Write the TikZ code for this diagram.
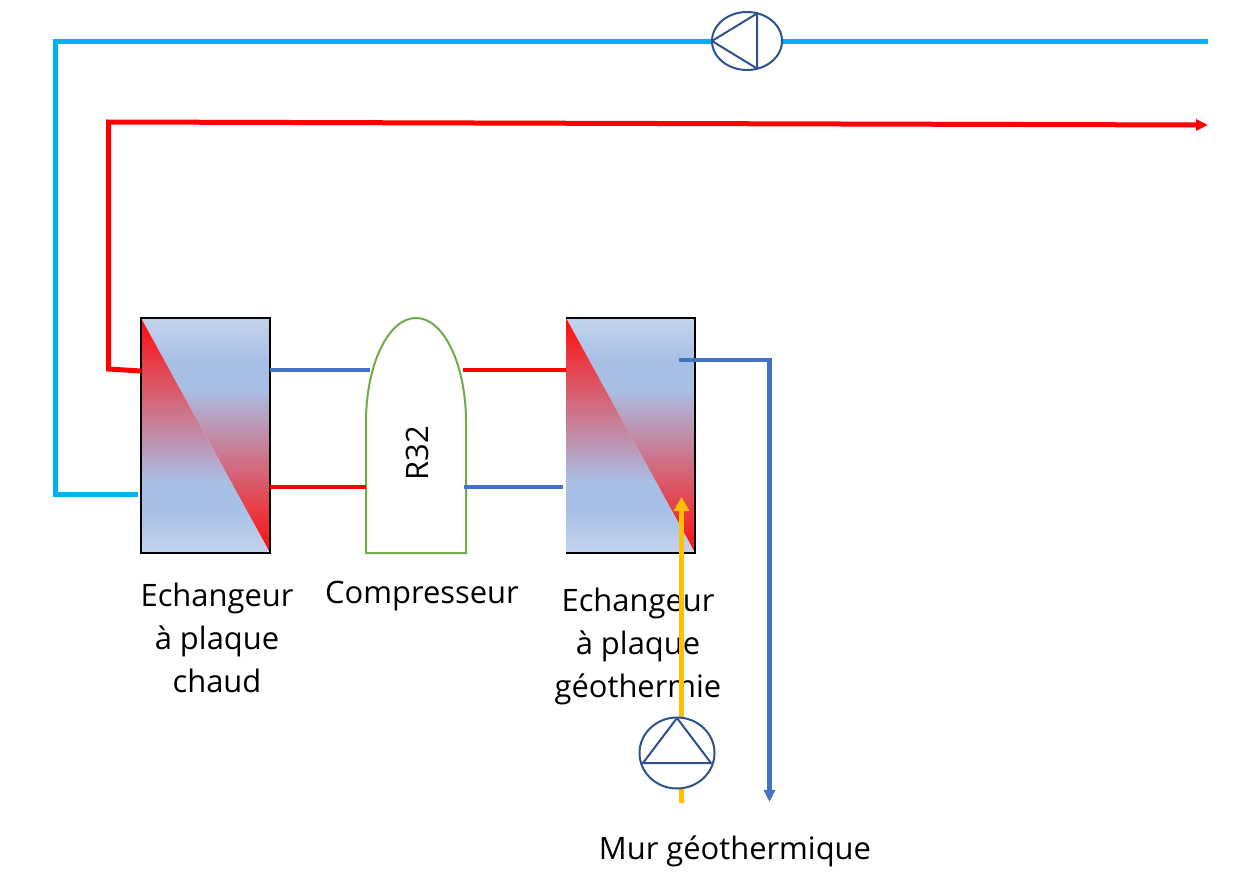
\documentclass[tikz,border=0pt]{standalone}
\usepackage{fontspec}
\setmainfont{Open Sans}
\usetikzlibrary{arrows.meta,shapes.geometric}
% stops live between 25bp (bottom of the path's box) and 75bp (top)
\pgfdeclareverticalshading{hxlower}{100bp}{
  rgb(0bp)=(0.77,0.83,0.93);
  rgb(25bp)=(0.77,0.83,0.93);
  rgb(34bp)=(0.66,0.75,0.90);
  rgb(40bp)=(0.66,0.75,0.90);
  rgb(75bp)=(1,0.05,0.05);
  rgb(100bp)=(1,0.05,0.05)}
\pgfdeclareverticalshading{hxupper}{100bp}{
  rgb(0bp)=(1,0.05,0.05);
  rgb(25bp)=(1,0.05,0.05);
  rgb(60bp)=(0.66,0.75,0.90);
  rgb(66bp)=(0.66,0.75,0.90);
  rgb(75bp)=(0.77,0.83,0.93);
  rgb(100bp)=(0.77,0.83,0.93)}
\definecolor{coldline}{HTML}{00B0F0}
\definecolor{hotline}{HTML}{FF0000}
\definecolor{blueline}{HTML}{4472C4}
\definecolor{yellowline}{HTML}{FFC000}
\definecolor{pumpline}{HTML}{2F528F}
\definecolor{compline}{HTML}{70AD47}
\tikzset{
  x=1pt,y=-1pt,
  hxbox/.style={minimum width=129pt,minimum height=235pt,inner sep=0pt,outer sep=0pt},
  label text/.style={font=\fontsize{30.9}{43}\selectfont,align=center,inner sep=0pt,text=black},
  cold pipe/.style={draw=coldline,line width=5pt},
  hot pipe/.style={draw=hotline,line width=5pt},
  red link/.style={draw=hotline,line width=4.4pt},
  blue link/.style={draw=blueline,line width=4.4pt},
  pump body/.style={draw=pumpline,line width=2pt,fill=white},
  tip/.style={-{Triangle[length=12pt,width=11pt]}},
}
\newcommand{\hxdraw}[1]{%
  \path[shading=hxupper] (#1.north west) -- (#1.north east) -- (#1.south east) -- cycle;
  \path[shading=hxlower] (#1.north west) -- (#1.south west) -- (#1.south east) -- cycle;
}
\begin{document}
\begin{tikzpicture}
\useasboundingbox[fill=white] (0,0) rectangle (1255,889);

% exchangers
\node[hxbox] (hxa) at (205.5,435.5) {};
\node[hxbox] (hxb) at (630.5,435.5) {};
\hxdraw{hxa}
\hxdraw{hxb}
\draw[black,line width=2.4pt] (hxa.south west) rectangle (hxa.north east);
\draw[black,line width=2.4pt] (hxb.north west) -- (hxb.north east) -- (hxb.south east) -- (hxb.south west);

% compressor
\coordinate (compbl) at (366,553);
\coordinate (compbr) at (466,553);
\coordinate (compsl) at (366,422);
\draw[compline,line width=2pt] (compbl) -- (compsl) arc[start angle=180,end angle=360,x radius=50,y radius=104] -- (compbr) -- cycle;
\node[label text,rotate=90] (r32) at (417,453) {R32};

% texts
\node[label text] (ta) at (217,638) {Echangeur\\à plaque\\chaud};
\node[label text] (tc) at (422,596) {Compresseur};
\node[label text] (tb) at (638,646) {Echangeur\\à plaque\\géothermie};
\node[label text] (tm) at (735,851) {Mur géothermique};

% links
\coordinate (a1) at (hxa.east |- 0,370); \coordinate (c1) at (370,370);
\coordinate (a2) at (hxa.east |- 0,487); \coordinate (c2) at (366,487);
\coordinate (c3) at (463,370); \coordinate (b3) at (hxb.west |- 0,370);
\coordinate (c4) at (464,487); \coordinate (b4) at (563,487);
\draw[blue link] (a1) -- (c1);
\draw[red link] (a2) -- (c2);
\draw[red link] (c3) -- (b3);
\draw[blue link] (c4) -- (b4);

% heating circuit
\coordinate (coldend) at (1208,41);
\coordinate (coldc) at (55.5,41);
\coordinate (coldd) at (55.5,494);
\coordinate (colde) at (138,494);
\draw[cold pipe] (coldend) -- (coldc) -- (coldd) -- (colde);
\coordinate (hotend) at (1208,125);
\coordinate (hotc) at (108.5,122);
\coordinate (hotd) at (108.5,369);
\coordinate (hote) at (hxa.west |- 0,371);
\draw[hot pipe,tip] (hote) -- (hotd) -- (hotc) -- (hotend);

% geothermal circuit
\coordinate (blstart) at (679,360);
\coordinate (blcorner) at (769.5,360);
\coordinate (blend) at (769.5,802);
\draw[blue link,tip] (blstart) -- (blcorner) -- (blend);
\coordinate (ybot) at (681.5,803);
\coordinate (ytop) at (681.5,497);
\draw[yellowline,line width=5.5pt,-{Triangle[length=14pt,width=15pt]}] (ybot) -- (ytop);

% pumps
\node[ellipse,pump body,minimum width=70pt,minimum height=58pt,inner sep=0pt] (pumptop) at (747,41) {};
\coordinate (pta) at (712,41); \coordinate (ptb) at (757,13.5); \coordinate (ptc) at (757,68.5);
\draw[pumpline,line width=2pt,line join=round] (pta) -- (ptb) -- (ptc) -- cycle;
\node[ellipse,pump body,minimum width=75pt,minimum height=71pt,inner sep=0pt] (pumpbot) at (677,753) {};
\coordinate (pba) at (677,718); \coordinate (pbb) at (643,763); \coordinate (pbc) at (711,763);
\draw[pumpline,line width=2pt,line join=round] (pba) -- (pbb) -- (pbc) -- cycle;
\end{tikzpicture}
\end{document}
